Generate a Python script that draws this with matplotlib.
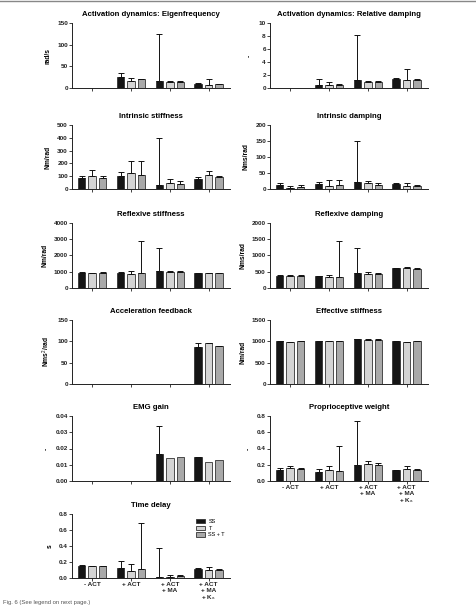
import numpy as np
import matplotlib
matplotlib.use("Agg")
import matplotlib.pyplot as plt

plt.rcParams['font.family'] = ['Liberation Sans', 'DejaVu Sans']
plt.rcParams['mathtext.fontset'] = 'custom'
plt.rcParams['mathtext.rm'] = 'Liberation Sans'
plt.rcParams['mathtext.it'] = 'Liberation Sans'

categories = ["- ACT", "+ ACT", "+ ACT\n+ MA", "+ ACT\n+ MA\n+ K$_\\mathrm{a}$"]
series = ["SS", "T", "SS + T"]

# each panel: values[series][category], upper error tip[series][category]
eig_val = [[0, 26, 17, 10], [0, 17, 14, 8], [0, 20, 15, 9]]
eig_top = [[0, 35, 125, 11], [0, 23, 16, 21], [0, 21, 16, 9.5]]

rdamp_val = [[0, 0.4, 1.2, 1.4], [0, 0.5, 1.0, 1.3], [0, 0.4, 1.0, 1.3]]
rdamp_top = [[0, 1.35, 8.2, 1.55], [0, 1.0, 1.1, 3.0], [0, 0.6, 1.1, 1.4]]

istiff_val = [[85, 100, 30, 80], [100, 125, 50, 110], [85, 110, 40, 95]]
istiff_top = [[105, 130, 395, 90], [145, 215, 75, 140], [105, 220, 60, 105]]

idamp_val = [[14, 17, 22, 17], [2, 8, 18, 9], [6, 13, 13, 9]]
idamp_top = [[19, 23, 150, 20], [8, 28, 26, 20], [11, 29, 20, 12]]

rstiff_val = [[950, 920, 1050, 930], [920, 880, 1000, 900], [930, 900, 1000, 910]]
rstiff_top = [[980, 960, 2450, 950], [950, 1030, 1060, 940], [960, 2900, 1040, 930]]

rdampg_val = [[380, 360, 460, 600], [370, 340, 440, 600], [370, 350, 430, 590]]
rdampg_top = [[400, 380, 1230, 620], [390, 410, 480, 660], [390, 1460, 450, 610]]

acc_val = [[0, 0, 0, 87], [0, 0, 0, 95], [0, 0, 0, 89]]
acc_top = [[0, 0, 0, 96], [0, 0, 0, 96], [0, 0, 0, 90]]

eff_val = [[1010, 1010, 1060, 1000], [990, 1000, 1040, 990], [1000, 1000, 1040, 1000]]
eff_top = [[1015, 1015, 1065, 1005], [995, 1005, 1045, 995], [1005, 1005, 1045, 1005]]

emg_val = [[0, 0, 0.0165, 0.0145], [0, 0, 0.014, 0.012], [0, 0, 0.015, 0.013]]
emg_top = [[0, 0, 0.034, 0.015], [0, 0, 0.014, 0.012], [0, 0, 0.015, 0.013]]

prop_val = [[0.13, 0.11, 0.195, 0.13], [0.155, 0.13, 0.215, 0.15], [0.145, 0.12, 0.20, 0.14]]
prop_top = [[0.155, 0.145, 0.74, 0.14], [0.18, 0.18, 0.25, 0.185], [0.165, 0.435, 0.225, 0.15]]

td_val = [[0.15, 0.125, 0.015, 0.11], [0.145, 0.085, 0.015, 0.10], [0.145, 0.11, 0.025, 0.10]]
td_top = [[0.16, 0.215, 0.37, 0.12], [0.155, 0.18, 0.035, 0.135], [0.15, 0.69, 0.035, 0.11]]

panels = [
    ("Activation dynamics: Eigenfrequency", "rad/s", eig_val, eig_top, 150, 50, "%d"),
    ("Activation dynamics: Relative damping", "-", rdamp_val, rdamp_top, 10, 2, "%d"),
    ("Intrinsic stiffness", "Nm/rad", istiff_val, istiff_top, 500, 100, "%d"),
    ("Intrinsic damping", "Nms/rad", idamp_val, idamp_top, 200, 50, "%d"),
    ("Reflexive stiffness", "Nm/rad", rstiff_val, rstiff_top, 4000, 1000, "%d"),
    ("Reflexive damping", "Nms/rad", rdampg_val, rdampg_top, 2000, 500, "%d"),
    ("Acceleration feedback", "Nms$^2$/rad", acc_val, acc_top, 150, 50, "%d"),
    ("Effective stiffness", "Nm/rad", eff_val, eff_top, 1500, 500, "%d"),
    ("EMG gain", "-", emg_val, emg_top, 0.04, 0.01, "%.2f"),
    ("Proprioceptive weight", "-", prop_val, prop_top, 0.8, 0.2, "%.1f"),
    ("Time delay", "s", td_val, td_top, 0.8, 0.2, "%.1f"),
]

colors = ["#151515", "#d4d4d4", "#a9a9a9"]
W, H = 477, 611
fig = plt.figure(figsize=(W / 100, H / 100), dpi=100)

cols_px = [(72, 230), (270, 428)]
rows_px = [(23, 88), (125, 189), (223, 288), (320, 384), (416, 481), (514, 578)]
show_xlabels = {9, 10}

x = np.arange(len(categories))
offsets = [-0.27, 0.0, 0.27]
bw = 0.19

for i, (title, ylab, vals, tops, ymax, step, fmt) in enumerate(panels):
    r, c = divmod(i, 2)
    x0, x1 = cols_px[c]
    t, b = rows_px[r]
    ax = fig.add_axes([x0 / W, 1 - b / H, (x1 - x0) / W, (b - t) / H])
    for s in range(3):
        v = np.array(vals[s], dtype=float)
        tp = np.array(tops[s], dtype=float)
        xs = x + offsets[s]
        mask = v > 0
        ax.bar(xs[mask], v[mask], width=bw, color=colors[s], edgecolor="#333333",
               linewidth=0.6, zorder=2, label=series[s])
        err = np.clip(tp - v, 0, None)
        m2 = mask & (err > 0)
        ax.errorbar(xs[m2], v[m2], yerr=[np.zeros(m2.sum()), err[m2]], fmt="none",
                    ecolor="#111111", elinewidth=0.7, capsize=2.3, capthick=0.7, zorder=3)
    ax.set_xlim(-0.52, 3.55)
    ax.set_ylim(0, ymax)
    ax.set_yticks(np.arange(0, ymax + step / 2, step))
    ax.yaxis.set_major_formatter(matplotlib.ticker.FormatStrFormatter(fmt))
    ax.set_xticks(x)
    if i in show_xlabels:
        ax.set_xticklabels(categories, fontsize=4.8, fontweight="bold", linespacing=1.1)
    else:
        ax.set_xticklabels([])
    for sp in ["top", "right"]:
        ax.spines[sp].set_visible(False)
    for sp in ["left", "bottom"]:
        ax.spines[sp].set_linewidth(0.7)
        ax.spines[sp].set_color("#222222")
    ax.tick_params(axis="both", length=2, width=0.6, labelsize=4.6, pad=1, colors="#222222")
    for lab in ax.get_yticklabels():
        lab.set_fontweight("bold")
    ax.set_title(title, fontsize=5.6, fontweight="bold", pad=5)
    ax.set_ylabel(ylab, fontsize=4.8, fontweight="bold", labelpad=4)
    if i == 10:
        ax.legend(loc="upper right", bbox_to_anchor=(1.0, 1.0), fontsize=4.0, frameon=False,
                  handlelength=1.6, handleheight=0.8, labelspacing=0.3, handletextpad=0.6)

fig.add_artist(plt.Line2D([0, 1], [0.998, 0.998], color="#888888", linewidth=1.0))
fig.text(0.006, 0.012, "Fig. 6 (See legend on next page.)", fontsize=4.2, color="#555555")

fig.savefig("out.png", dpi=100)
